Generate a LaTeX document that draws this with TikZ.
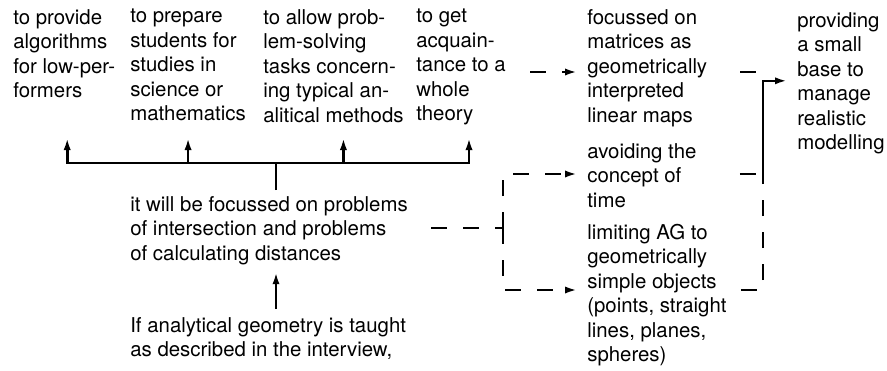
\documentclass[tikz,border=0pt]{standalone}
\usepackage{fontspec}
\setmainfont{TeX Gyre Heros}
\usetikzlibrary{arrows.meta}

\tikzset{
  txt/.style={align=left, inner sep=0pt, anchor=north west,
    font=\fontsize{10.2}{12.25}\selectfont, execute at begin node=\strut},
  arr/.style={-{Latex[length=6pt,width=3.6pt]}},
  dsh/.style={dash pattern=on 8pt off 8pt}
}

\begin{document}
\begin{tikzpicture}[x=0.5pt, y=-0.5pt, line width=1.3pt]
  \useasboundingbox (0,0) rectangle (887,370);

  \node[txt] (g1) at (12,7.85) {to provide\\algorithms\\for low-per-\\formers};
  \node[txt] (g2) at (129,7.85) {to prepare\\students for\\studies in\\science or\\mathematics};
  \node[txt] (g3) at (262,7.85) {to allow prob-\\lem-solving\\tasks concern-\\ing typical an-\\alitical methods};
  \node[txt] (g4) at (415,7.85) {to get\\acquain-\\tance to a\\whole\\theory};
  \node[txt] (focus) at (129,194.85) {it will be focussed on problems\\of intersection and problems\\of calculating distances};
  \node[txt] (cond) at (129,315.85) {If analytical geometry is taught\\as described in the interview,};
  \node[txt] (m1) at (586,7.85) {focussed on\\matrices as\\geometrically\\interpreted\\linear maps};
  \node[txt] (m2) at (586,141.85) {avoiding the\\concept of\\time};
  \node[txt] (m3) at (586,222.85) {limiting AG to\\geometrically\\simple objects\\(points, straight\\lines, planes,\\spheres)};
  \node[txt] (res) at (796,10.85) {providing\\a small\\base to\\manage\\realistic\\modelling};

  \coordinate (bus) at (276,163);
  \coordinate (tip) at (0,138);
  \coordinate (split) at (503,228);
  \coordinate (r1) at (763,72);
  \coordinate (r2) at (763,174);
  \coordinate (r3) at (763,290);
  \coordinate (join) at (763,183);

  \draw[arr] ([yshift=3.4pt]cond.north -| bus) -- ([yshift=-1.75pt]focus.south -| bus);
  \draw ([yshift=2.4pt]focus.north -| bus) -- (bus);
  \draw[arr] (bus) -| ([xshift=1.5pt]g1.south |- tip);
  \draw[arr] (bus) -| ([xshift=4pt]g4.south |- tip);
  \draw[arr] (g2.south |- bus) -- (g2.south |- tip);
  \draw[arr] ([xshift=5pt]g3.south |- bus) -- ([xshift=5pt]g3.south |- tip);

  \draw[dsh,arr] ([xshift=11.5pt]g4.east |- r1) -- ([xshift=-4.5pt]m1.west |- r1);
  \draw[dsh] ([xshift=11pt]focus.east |- split) -- (split);
  \draw[dsh,arr] (split) |- ([xshift=-4.5pt]m2.west |- r2);
  \draw[dsh,arr] (split) |- ([xshift=-4.5pt]m3.west |- r3);

  \draw[dsh] ([xshift=16pt]m1.east |- r1) -- (r1);
  \draw[dsh] ([xshift=21pt]m2.east |- r2) -- (r2);
  \draw[dsh] ([xshift=6.5pt]m3.east |- r3) -| (join);
  \draw[arr] (join) |- ([xshift=-4.5pt,yshift=1.85pt]res.west);
\end{tikzpicture}
\end{document}
